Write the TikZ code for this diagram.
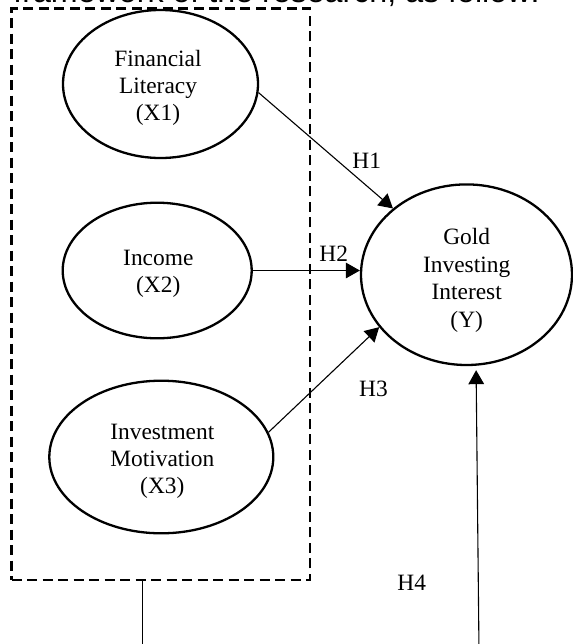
\documentclass[tikz,border=0pt]{standalone}
\usepackage{fontspec}
\setmainfont{Liberation Serif}
\newfontfamily\arialf{Liberation Sans}
\usetikzlibrary{shapes.geometric,arrows.meta}
\begin{document}
\begin{tikzpicture}[x=0.5pt,y=-0.5pt,
  ell/.style={draw,ellipse,line width=1.15pt,inner sep=0pt},
  lbl/.style={align=center,inner sep=0pt,font=\fontsize{11.7pt}{13.7pt}\selectfont},
  hlbl/.style={inner sep=0pt,anchor=base,font=\fontsize{11.7pt}{13.7pt}\selectfont},
  grpbox/.style={draw,line width=1.3pt,dash pattern=on 5pt off 2.75pt,inner sep=0pt},
  conn/.style={line width=0.55pt,-{Triangle[length=7pt,width=7.8pt]}},
  plain/.style={line width=0.6pt}]
\useasboundingbox (0,0) rectangle (573,644);
% clipped heading text
\node[anchor=base west,inner sep=0pt,font=\arialf\fontsize{16.1pt}{18pt}\selectfont] (head) at (13,2.6) {framework of the research, as follow:};
% dashed group box
\node[grpbox,minimum width=149.15pt,minimum height=285.85pt] (grp) at (160.85,294.15) {};
% ellipses
\node[ell,minimum width=97.5pt,minimum height=74pt] (x1) at (160.5,84) {};
\node[lbl] (x1t) at (158,87.9) {Financial\\Literacy\\(X1)};
\node[ell,minimum width=94.5pt,minimum height=67.8pt] (x2) at (157.2,270.5) {};
\node[lbl] (x2t) at (158.3,273.9) {Income\\(X2)};
\node[ell,minimum width=112pt,minimum height=76.3pt] (x3) at (161.3,457) {};
\node[lbl] (x3t) at (162.3,461.3) {Investment\\Motivation\\(X3)};
\node[ell,minimum width=105.5pt,minimum height=90.3pt] (y) at (466.5,274.7) {};
\node[lbl] (yt) at (466.7,280.4) {Gold\\Investing\\Interest\\(Y)};
% connectors
\draw[conn] (x1.-5) -- (y.138);
\draw[conn] (x2.east) -- (x2.east -| y.west);
\draw[conn] (x3.13.5) -- (y.211);
\coordinate (b1) at (142.7,650);
\coordinate (b2) at (479,650);
\draw[plain] (b1 |- grp.south) -- (b1);
\draw[conn,shorten >=2.2pt] (b2) -- (y.-84);
% hypothesis labels
\node[hlbl] (h1) at (366.7,168.3) {H1};
\node[hlbl] (h2) at (333.7,261) {H2};
\node[hlbl] (h3) at (373.5,396.7) {H3};
\node[hlbl] (h4) at (411.7,590.7) {H4};
\end{tikzpicture}
\end{document}
